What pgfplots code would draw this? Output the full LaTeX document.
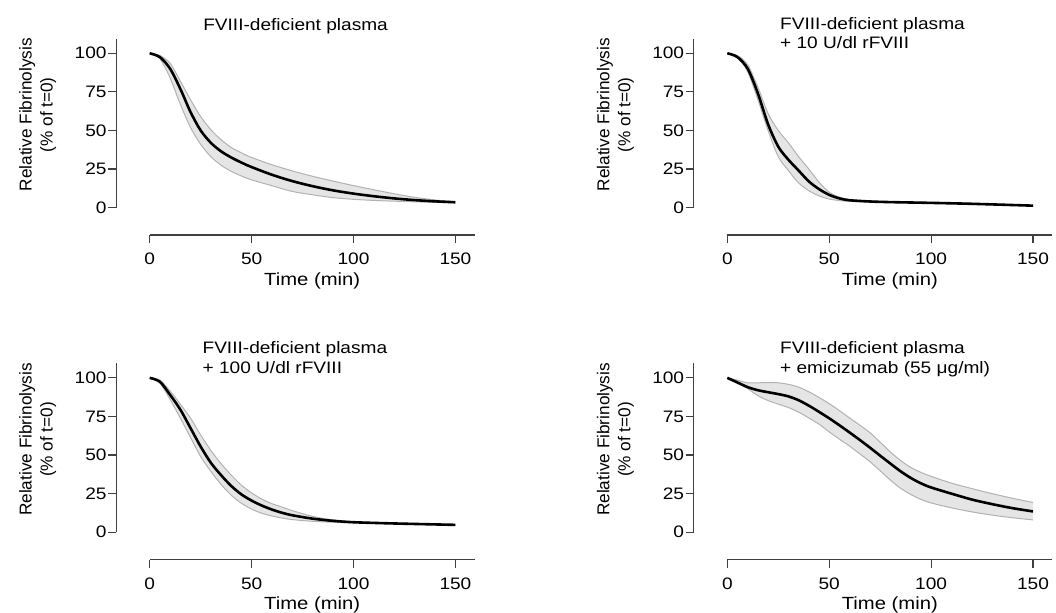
\documentclass[border=0pt]{standalone}
\usepackage{fontspec}
\setmainfont{Liberation Sans}[FakeStretch=1.15]
\newfontfamily\ylabfont{Liberation Sans}
\usepackage{pgfplots}
\pgfplotsset{compat=1.18}
\usepackage{pgfplotstable}
\usepgfplotslibrary{fillbetween}

% FVIII-deficient plasma
\pgfplotstableread{
t mean lo hi
0 100 100 100
5 97.5 96.5 98.5
10 90 84 93.5
15 77 67 82
20 62 52 70
25 50 41 59
30 42 33 50.5
35 36.5 27.5 44
40 32.5 23.5 39
45 29.2 20.5 35.5
50 26.3 18 32.5
60 21.3 14.2 27.8
70 17.2 10.5 23.8
80 13.9 8.3 20.3
90 11.2 6.5 17.2
100 9.1 5.4 14.3
110 7.4 4.7 11.6
120 6.0 4.2 9.0
130 4.9 3.8 6.7
140 4.1 3.4 5.0
150 3.5 3.2 3.8
}\dataA

% + 10 U/dl rFVIII
\pgfplotstableread{
t mean lo hi
0 100 100 100
5 97.5 97 98.5
10 90 88 92.5
15 74 70 78
20 54 50 61
25 39.5 33 50
30 31 24 42
35 24 16 33
40 17 11 25
45 12 7.6 16.5
50 8.3 5.6 10
55 6 4.6 6.8
60 4.8 4.1 5.3
70 4 3.7 4.3
80 3.6 3.4 3.9
100 3.1 2.9 3.4
120 2.5 2.3 2.8
150 1.3 1.2 1.5
}\dataB

% + 100 U/dl rFVIII
\pgfplotstableread{
t mean lo hi
0 100 100 100
5 97.5 96.5 98.5
10 89 86 91.5
15 79.5 74 83
20 67.5 61.5 74
25 55.5 49 63
30 45 39.5 53
35 37 31 44.5
40 30 24 37
45 24.5 18.8 30.5
50 20.5 15 25.5
55 17.3 12.3 21.5
60 14.7 10.5 18.5
65 12.6 9.2 16.3
70 11 8.2 14
80 8.8 7.1 10.3
90 7.4 6.5 8
100 6.5 6.1 6.9
120 5.7 5.5 6
150 4.8 4.6 5
}\dataC

% + emicizumab
\pgfplotstableread{
t mean lo hi
0 100 100 100
5 97 96.5 98.5
10 94 93 96.8
15 92 88.5 96.8
20 90.7 85.3 97
25 89.5 83 96.8
30 88 80.8 95.8
35 85.5 77.8 94
40 82 74 91
45 78 70 87.3
50 73.8 65 83.3
55 69.3 60.3 78.8
60 64.6 55.8 74
65 59.8 50.8 69.4
70 54.8 45.7 64.5
75 49.6 39.8 58.3
80 44.5 33.8 52
85 39.5 28.5 46.5
90 35.2 24.5 42
95 31.7 21.3 38.8
100 29 19 36.2
110 25 15.8 31.8
120 21.2 13.2 28.3
130 18.2 11.1 25
140 15.6 9.4 22
150 13.5 8 19.3
}\dataD

\pgfplotsset{
  panel/.style={
    x=1.019pt, y=0.772pt,
    xmin=-16.5, xmax=159.5, ymin=-17.7, ymax=109.5,
    anchor=south west,
    axis x line*=bottom, axis y line*=left,
    axis line style={draw=none},
    clip=false,
    xtick={0,50,100,150}, ytick={0,25,50,75,100},
    tick align=outside, major tick length=4pt,
    tick style={black!75, line width=0.6pt},
    /pgf/number format/assume math mode=true,
    every tick label/.append style={font=\fontsize{8.3}{10}\selectfont},
    yticklabel style={inner xsep=0.6pt},
    xticklabel style={inner ysep=0pt, yshift=-5pt},
    xlabel={Time (min)},
    xlabel style={at={(axis description cs:0.5467,0)}, anchor=north, inner sep=0pt, yshift=-18.5pt, font=\fontsize{8.8}{10}\selectfont},
    ylabel={Relative Fibrinolysis\\(\% of t=0)},
    ylabel style={at={(axis description cs:-0.2185,0.612)}, anchor=center, align=center, font=\ylabfont\fontsize{8.6}{10.5}\selectfont},
  },
  band/.style={draw=black!30, line width=0.5pt, smooth},
  meanline/.style={black, line width=1.3pt, smooth},
}

\newcommand{\axlines}{%
  \draw[black!75, line width=0.6pt] (axis cs:0,-17.7) -- (axis cs:159.5,-17.7);
  \draw[black!75, line width=0.6pt] (axis cs:-16.5,0) -- (axis cs:-16.5,109.5);
}

\begin{document}
\begin{tikzpicture}

% top left
\begin{axis}[panel, at={(58.05pt,188.5pt)}]
\axlines
\addplot[band, name path=U] table[x=t,y=hi]{\dataA};
\addplot[band, name path=L] table[x=t,y=lo]{\dataA};
\addplot[fill=black!10, draw=none] fill between[of=U and L];
\addplot[meanline] table[x=t,y=mean]{\dataA};
\node[anchor=base, inner sep=0pt, font=\fontsize{8.3}{10}\selectfont] at (axis description cs:0.5004,1.0398) {FVIII-deficient plasma};
\end{axis}

% top right
\begin{axis}[panel, at={(346.85pt,188.5pt)}]
\axlines
\addplot[band, name path=U] table[x=t,y=hi]{\dataB};
\addplot[band, name path=L] table[x=t,y=lo]{\dataB};
\addplot[fill=black!10, draw=none] fill between[of=U and L];
\addplot[meanline] table[x=t,y=mean]{\dataB};
\node[anchor=base west, inner sep=0pt, font=\fontsize{8.3}{10}\selectfont] at (axis description cs:0.240,1.0469) {FVIII-deficient plasma};
\node[anchor=base west, inner sep=0pt, font=\fontsize{8.3}{10}\selectfont] at (axis description cs:0.240,0.948) {+ 10 U/dl rFVIII};
\end{axis}

% bottom left
\begin{axis}[panel, at={(58.05pt,26.2pt)}]
\axlines
\addplot[band, name path=U] table[x=t,y=hi]{\dataC};
\addplot[band, name path=L] table[x=t,y=lo]{\dataC};
\addplot[fill=black!10, draw=none] fill between[of=U and L];
\addplot[meanline] table[x=t,y=mean]{\dataC};
\node[anchor=base west, inner sep=0pt, font=\fontsize{8.3}{10}\selectfont] at (axis description cs:0.240,1.0469) {FVIII-deficient plasma};
\node[anchor=base west, inner sep=0pt, font=\fontsize{8.3}{10}\selectfont] at (axis description cs:0.240,0.948) {+ 100 U/dl rFVIII};
\end{axis}

% bottom right
\begin{axis}[panel, at={(346.85pt,26.2pt)}]
\axlines
\addplot[band, name path=U] table[x=t,y=hi]{\dataD};
\addplot[band, name path=L] table[x=t,y=lo]{\dataD};
\addplot[fill=black!10, draw=none] fill between[of=U and L];
\addplot[meanline] table[x=t,y=mean]{\dataD};
\node[anchor=base west, inner sep=0pt, font=\fontsize{8.3}{10}\selectfont] at (axis description cs:0.240,1.0469) {FVIII-deficient plasma};
\node[anchor=base west, inner sep=0pt, font=\fontsize{8.3}{10}\selectfont] at (axis description cs:0.240,0.948) {+ emicizumab (55 μg/ml)};
\end{axis}

\pgfresetboundingbox
\path (0,0) rectangle (528pt,306pt);
\end{tikzpicture}
\end{document}
